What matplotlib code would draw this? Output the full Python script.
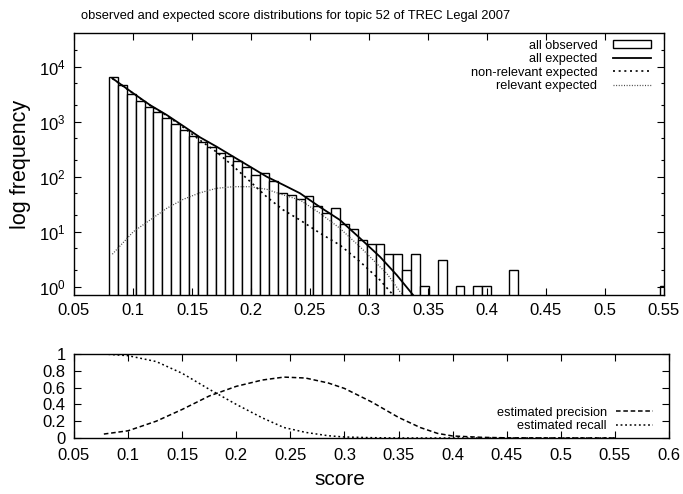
# Score distributions (histogram + fitted curves) and precision/recall panel
import numpy as np
import matplotlib
matplotlib.use('Agg')
import matplotlib.pyplot as plt
from matplotlib.ticker import LogLocator, FixedLocator

plt.rcParams['font.family'] = ['Liberation Sans', 'DejaVu Sans']
plt.rcParams['mathtext.fontset'] = 'custom'
plt.rcParams['mathtext.rm'] = 'Liberation Sans'
plt.rcParams['mathtext.it'] = 'Liberation Sans:italic'

# Histogram of observed scores (counts per bin, bins of equal width)
bin_start = 0.0797
bin_width = 0.00753
counts = [6600, 4650, 3190, 2410, 1830, 1520, 1150, 908, 706, 556,
          433, 342, 273, 241, 193, 152, 106, 115, 84, 51,
          46, 40, 45, 29, 22, 27, 14, 11, 7, 6,
          6, 4, 4, 2, 4, 1, 0, 3, 0, 1,
          0, 1, 1, 0, 0, 2, 0, 0, 0, 0,
          0, 0, 0, 0, 0, 0, 0, 0, 0, 0,
          0, 0, 1]

# Expected curves
all_x = [0.0825, 0.1003, 0.1144, 0.1286, 0.1426, 0.1568, 0.1709, 0.1850, 0.1992,
         0.2133, 0.2274, 0.2415, 0.2585, 0.2754, 0.2924, 0.3093, 0.3235, 0.3375]
all_y = [6150, 3280, 2010, 1325, 835, 520, 351, 231, 152,
         100, 71, 50, 28, 16.3, 7.6, 3.5, 1.63, 0.7]

nonrel_x = [0.0825, 0.1003, 0.1144, 0.1286, 0.1426, 0.1568, 0.1709, 0.1850, 0.1992,
            0.2133, 0.2274, 0.2415, 0.2585, 0.2754, 0.2924, 0.3093, 0.3206]
nonrel_y = [6100, 3250, 1980, 1290, 790, 460, 280, 155, 82,
            43, 24.8, 16.3, 9.4, 5.7, 2.85, 1.32, 0.7]

rel_x = [0.0825, 0.1003, 0.1144, 0.1286, 0.1426, 0.1568, 0.1709, 0.1850, 0.1992,
         0.2133, 0.2274, 0.2415, 0.2585, 0.2754, 0.2924, 0.3093, 0.3150, 0.3263, 0.3291]
rel_y = [3.9, 10, 16.3, 26.6, 38.8, 51, 61.5, 65.8, 65.8,
         59, 46.5, 37.7, 21.6, 11.5, 5.3, 2.3, 1.75, 0.81, 0.7]

# Estimated precision / recall
prec_x = [0.0776, 0.1, 0.126, 0.15, 0.175, 0.2, 0.224, 0.244, 0.264, 0.285,
          0.3, 0.325, 0.35, 0.37, 0.386, 0.4, 0.427, 0.45, 0.5, 0.55]
prec_y = [0.047, 0.086, 0.2, 0.34, 0.5, 0.615, 0.69, 0.725, 0.714, 0.655,
          0.59, 0.43, 0.245, 0.125, 0.055, 0.024, 0.008, 0.002, 0.0, 0.0]
rec_x = [0.0776, 0.1, 0.126, 0.15, 0.175, 0.2, 0.224, 0.244, 0.264, 0.285,
         0.3, 0.325, 0.35, 0.4, 0.5, 0.55]
rec_y = [1.0, 0.98, 0.91, 0.77, 0.58, 0.40, 0.24, 0.125, 0.067, 0.027,
         0.012, 0.004, 0.0, 0.0, 0.0, 0.0]

W, H = 683, 494
fig = plt.figure(figsize=(W / 100, H / 100), dpi=100)

def px_axes(l, r, t, b):
    return fig.add_axes([l / W, 1 - b / H, (r - l) / W, (b - t) / H])

ax = px_axes(74, 664, 33, 295)
ax2 = px_axes(74, 669, 354, 438)

# top panel
bin_left = bin_start + bin_width * np.arange(len(counts))
counts = np.array(counts, dtype=float)
nz = counts > 0
h_obs = ax.bar(bin_left[nz], counts[nz], width=bin_width, bottom=0.01, align='edge',
               facecolor='white', edgecolor='black', linewidth=1.0, label='all observed')
h_all, = ax.plot(all_x, all_y, color='black', lw=1.3, label='all expected')
h_non, = ax.plot(nonrel_x, nonrel_y, color='black', lw=1.2, ls=(0, (1.2, 2.2)),
                 label='non-relevant expected')
h_rel, = ax.plot(rel_x, rel_y, color='#444444', lw=0.9, ls=(0, (0.8, 1.3)),
                 label='relevant expected')

ax.set_yscale('log')
ax.set_xlim(0.05, 0.55)
ax.set_ylim(0.706, 41000)
ax.set_xticks(np.arange(0.05, 0.5501, 0.05))
ax.set_xticklabels(['0.05', '0.1', '0.15', '0.2', '0.25', '0.3', '0.35',
                    '0.4', '0.45', '0.5', '0.55'])
ax.yaxis.set_major_locator(FixedLocator([1, 10, 100, 1000, 10000]))
ax.yaxis.set_minor_locator(LogLocator(base=10, subs=(2, 5)))
ax.set_ylabel('log frequency', fontsize=15.5, labelpad=6)

leg = ax.legend(handles=[h_obs, h_all, h_non, h_rel],
                loc='upper right', bbox_to_anchor=(0.978, 0.975), frameon=False,
                markerfirst=False, fontsize=9.2, handlelength=3.0,
                handleheight=0.55, handletextpad=1.2, labelspacing=0.12,
                borderpad=0, borderaxespad=0)
for t in leg.get_texts():
    t.set_ha('right')

fig.text(296 / W, 1 - 16 / H,
         'observed and expected score distributions for topic 52 of TREC Legal 2007',
         ha='center', va='center', fontsize=9.3)

# bottom panel
ax2.plot(prec_x, prec_y, color='black', lw=1.1, ls=(0, (3, 1.8)),
         label='estimated precision')
ax2.plot(rec_x, rec_y, color='black', lw=1.1, ls=(0, (1.2, 1.8)),
         label='estimated recall')
ax2.set_xlim(0.05, 0.6)
ax2.set_ylim(0, 1)
ax2.set_xticks(np.arange(0.05, 0.6001, 0.05))
ax2.set_xticklabels(['0.05', '0.1', '0.15', '0.2', '0.25', '0.3', '0.35',
                     '0.4', '0.45', '0.5', '0.55', '0.6'])
ax2.set_yticks([0, 0.2, 0.4, 0.6, 0.8, 1])
ax2.set_yticklabels(['0', '0.2', '0.4', '0.6', '0.8', '1'])
ax2.set_xlabel('score', fontsize=15)
ax2.xaxis.set_label_coords(0.447, -0.38)
leg2 = ax2.legend(loc='lower right', bbox_to_anchor=(0.973, 0.07), frameon=False,
                  markerfirst=False, fontsize=9.2, handlelength=2.9,
                  handletextpad=0.7, labelspacing=0.12, borderpad=0,
                  borderaxespad=0)
for t in leg2.get_texts():
    t.set_ha('right')

# gnuplot-ish frame: inward ticks on all four sides
for a in (ax, ax2):
    a.tick_params(which='both', direction='in', top=True, right=True,
                  labelsize=12, width=0.8)
    a.tick_params(which='major', length=5, pad=6)
    a.tick_params(which='minor', length=2.5)
    for s in a.spines.values():
        s.set_linewidth(1.0)
ax2.tick_params(axis='x', which='major', pad=7.5)

fig.savefig('out.png', dpi=100)
